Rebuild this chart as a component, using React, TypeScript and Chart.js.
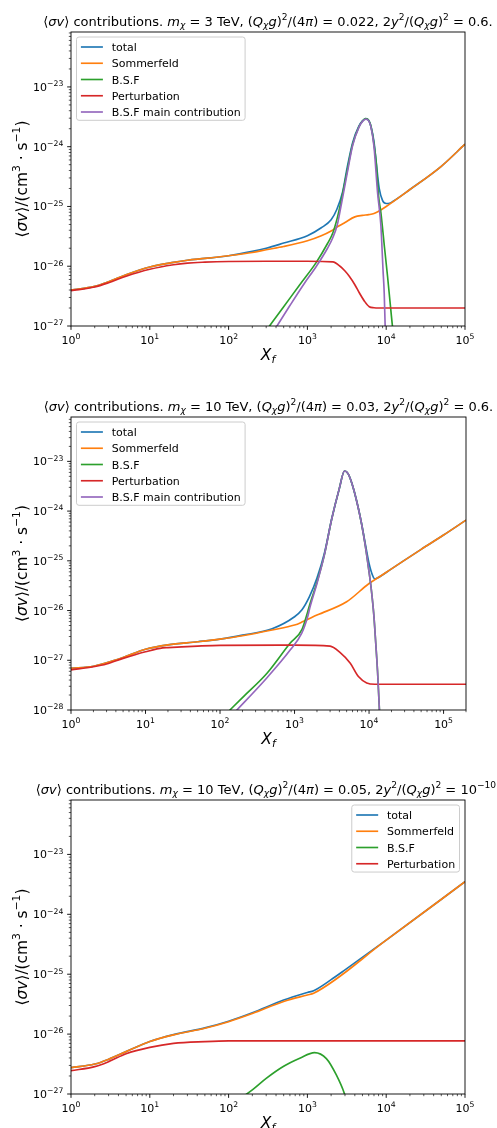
import React, { useEffect, useRef } from "react";
import { Chart, registerables } from "chart.js";
Chart.register(...registerables);

const FONT = '"DejaVu Sans", "Liberation Sans", Arial, sans-serif';

const seriesLabels = ["total", "Sommerfeld", "B.S.F", "Perturbation", "B.S.F main contribution"];
const seriesColors = ["#1f77b4", "#ff7f0e", "#2ca02c", "#d62728", "#9467bd"];

// ---------- Panel 1: m = 3 TeV ----------
const p1TotalX = [1, 2, 3, 5, 10, 20, 30, 50, 100, 200, 300, 500, 1000, 1500, 2000, 2360, 2800, 3200, 3750, 4500, 5000, 5500, 6000, 6400, 7000, 7400, 8150, 9000, 10000, 11000, 12000, 20000, 50000, 100000];
const p1TotalY = [4.0e-27, 4.6e-27, 5.5e-27, 7.2e-27, 9.7e-27, 1.16e-26, 1.26e-26, 1.35e-26, 1.5e-26, 1.77e-26, 2.0e-26, 2.44e-26, 3.24e-26, 4.4e-26, 6.0e-26, 8.9e-26, 1.75e-25, 4.5e-25, 1.17e-24, 2.2e-24, 2.7e-24, 2.95e-24, 2.75e-24, 2.2e-24, 1.2e-24, 6.2e-25, 2.0e-25, 1.25e-25, 1.12e-25, 1.13e-25, 1.2e-25, 1.92e-25, 4.7e-25, 1.1e-24];
const p1SomX = [1, 2, 3, 5, 10, 20, 30, 50, 100, 200, 300, 500, 1000, 1500, 2000, 2500, 3000, 4000, 5000, 6000, 7000, 8000, 10000, 20000, 50000, 100000];
const p1SomY = [4.0e-27, 4.6e-27, 5.5e-27, 7.2e-27, 9.7e-27, 1.16e-26, 1.26e-26, 1.35e-26, 1.5e-26, 1.7e-26, 1.89e-26, 2.14e-26, 2.67e-26, 3.24e-26, 3.9e-26, 4.7e-26, 5.4e-26, 6.7e-26, 7.1e-26, 7.3e-26, 7.6e-26, 8.3e-26, 1.0e-25, 1.92e-25, 4.7e-25, 1.1e-24];
const p1BsfX = [300, 500, 800, 1290, 1800, 2100, 2400, 2700, 3200, 3750, 4500, 5000, 5500, 6000, 6400, 7000, 7500, 8000, 8570, 9500, 10400, 11200, 12000, 12600];
const p1BsfY = [8.4e-28, 2.1e-27, 4.9e-27, 1.15e-26, 2.4e-26, 3.6e-26, 6.5e-26, 1.3e-25, 4.0e-25, 1.1e-24, 2.15e-24, 2.7e-24, 2.95e-24, 2.75e-24, 2.2e-24, 1.1e-24, 5.0e-25, 1.5e-25, 7.8e-26, 2.1e-26, 6.8e-27, 2.5e-27, 1.0e-27, 6.0e-28];
const p1PertX = [1, 2, 3, 5, 10, 20, 30, 50, 100, 300, 1000, 2100, 2600, 3000, 3400, 4000, 4550, 5300, 6100, 7000, 7900, 10000, 100000];
const p1PertY = [3.9e-27, 4.5e-27, 5.3e-27, 6.8e-27, 8.9e-27, 1.06e-26, 1.13e-26, 1.17e-26, 1.2e-26, 1.21e-26, 1.21e-26, 1.18e-26, 1.0e-26, 8.3e-27, 6.8e-27, 4.9e-27, 3.6e-27, 2.6e-27, 2.1e-27, 2.02e-27, 2.0e-27, 2.0e-27, 2.0e-27];
const p1MainX = [380, 600, 900, 1300, 1800, 2100, 2400, 2700, 3200, 3750, 4500, 5000, 5500, 6000, 6400, 7000, 7770, 8570, 9100, 9440, 9700, 9900];
const p1MainY = [8.5e-28, 2.2e-27, 5.0e-27, 1.0e-26, 2.0e-26, 3.0e-26, 5.0e-26, 1.1e-25, 3.6e-25, 1.05e-24, 2.1e-24, 2.65e-24, 2.9e-24, 2.7e-24, 2.15e-24, 1.0e-24, 1.7e-25, 4.7e-26, 9.0e-27, 3.5e-27, 1.0e-27, 5.0e-28];

// ---------- Panel 2: m = 10 TeV, alpha = 0.03 ----------
const p2TotalX = [1, 2, 3, 5, 10, 20, 50, 100, 200, 500, 1000, 1250, 1585, 2000, 2510, 3160, 3980, 4680, 5250, 6030, 7080, 7940, 8910, 10000, 11200, 12000, 12900, 20000, 50000, 100000, 200000];
const p2TotalY = [6.9e-28, 7.6e-28, 8.9e-28, 1.14e-27, 1.66e-27, 2.04e-27, 2.36e-27, 2.67e-27, 3.2e-27, 4.3e-27, 7.5e-27, 1.02e-26, 1.9e-26, 4.5e-26, 1.4e-25, 7.1e-25, 2.8e-24, 6.4e-24, 5.6e-24, 3.2e-24, 1.26e-24, 5.6e-25, 2.2e-25, 8.9e-26, 5.0e-26, 4.3e-26, 4.5e-26, 6.9e-26, 1.7e-25, 3.3e-25, 6.6e-25];
const p2SomX = [1, 2, 3, 5, 10, 20, 50, 100, 200, 500, 1000, 1300, 2000, 5000, 10000, 13000, 20000, 50000, 100000, 200000];
const p2SomY = [6.9e-28, 7.6e-28, 8.9e-28, 1.14e-27, 1.66e-27, 2.04e-27, 2.36e-27, 2.67e-27, 3.12e-27, 4.07e-27, 5.1e-27, 6.0e-27, 8.1e-27, 1.5e-26, 3.5e-26, 4.5e-26, 6.9e-26, 1.7e-25, 3.3e-25, 6.6e-25];
const p2BsfX = [120, 200, 427, 870, 1260, 1500, 1620, 2000, 2510, 3160, 3980, 4680, 5250, 6030, 7080, 7940, 8910, 10000, 10800, 11600, 12300, 13000, 13600, 14100];
const p2BsfY = [8.3e-29, 1.78e-28, 5.5e-28, 2.2e-27, 4.2e-27, 9.4e-27, 1.4e-26, 3.7e-26, 1.3e-25, 7.0e-25, 2.8e-24, 6.4e-24, 5.6e-24, 3.2e-24, 1.25e-24, 5.5e-25, 2.0e-25, 6.0e-26, 2.4e-26, 8.0e-27, 2.2e-27, 6.0e-28, 1.5e-28, 5.0e-29];
const p2PertX = [1, 2, 3, 5, 10, 17, 20, 50, 100, 1000, 3000, 4000, 5600, 7200, 9300, 12000, 200000];
const p2PertY = [6.4e-28, 7.4e-28, 8.4e-28, 1.09e-27, 1.48e-27, 1.78e-27, 1.8e-27, 1.93e-27, 2.0e-27, 2.02e-27, 1.93e-27, 1.48e-27, 8.7e-28, 4.7e-28, 3.5e-28, 3.3e-28, 3.3e-28];
const p2MainX = [150, 424, 873, 1250, 1500, 1620, 2000, 2510, 3160, 3980, 4680, 5250, 6030, 7080, 7940, 8910, 10000, 10800, 11600, 12300, 13000, 13600, 14100];
const p2MainY = [8.3e-29, 4.4e-28, 1.6e-27, 3.5e-27, 7.5e-27, 1.2e-26, 3.5e-26, 1.3e-25, 7.0e-25, 2.8e-24, 6.4e-24, 5.6e-24, 3.2e-24, 1.25e-24, 5.5e-25, 2.0e-25, 6.0e-26, 2.4e-26, 8.0e-27, 2.2e-27, 6.0e-28, 1.5e-28, 5.0e-29];

// ---------- Panel 3: m = 10 TeV, alpha = 0.05 ----------
const p3TotalX = [1, 2, 3, 5, 10, 20, 50, 100, 200, 500, 1000, 1200, 2000, 3000, 10000, 100000];
const p3TotalY = [2.75e-27, 3.16e-27, 3.8e-27, 5.1e-27, 7.5e-27, 9.8e-27, 1.27e-26, 1.64e-26, 2.27e-26, 3.7e-26, 4.95e-26, 5.3e-26, 8.1e-26, 1.18e-25, 3.7e-25, 3.5e-24];
const p3SomX = [1, 2, 3, 5, 10, 20, 50, 100, 200, 500, 1000, 1200, 10000, 100000];
const p3SomY = [2.75e-27, 3.16e-27, 3.8e-27, 5.1e-27, 7.5e-27, 9.7e-27, 1.25e-26, 1.61e-26, 2.2e-26, 3.5e-26, 4.5e-26, 4.8e-26, 3.7e-25, 3.5e-24];
const p3BsfX = [150, 200, 300, 500, 800, 1230, 1740, 2320, 2960, 3100];
const p3BsfY = [8.9e-28, 1.17e-27, 1.82e-27, 2.9e-27, 3.94e-27, 4.9e-27, 3.9e-27, 2.1e-27, 1.0e-27, 8.0e-28];
const p3PertX = [1, 2, 3, 5, 10, 20, 50, 100, 1000, 100000];
const p3PertY = [2.45e-27, 2.86e-27, 3.47e-27, 4.7e-27, 6.0e-27, 7.0e-27, 7.5e-27, 7.7e-27, 7.7e-27, 7.7e-27];

// tick exponents
const p1XTicks = [0, 1, 2, 3, 4, 5];
const p1YTicks = [-27, -26, -25, -24, -23];
const p2XTicks = [0, 1, 2, 3, 4, 5];
const p2YTicks = [-28, -27, -26, -25, -24, -23];
const p3XTicks = [0, 1, 2, 3, 4, 5];
const p3YTicks = [-27, -26, -25, -24, -23];

const TICK_FS = 11;
const LEGEND_FS = 11;
const TITLE_FS = 13;
const LABEL_FS = 15.4;
const LINE_W = 1.65;

type Seg = { t: string; it?: boolean; sup?: boolean; sub?: boolean };

function titleSegs(mass: string, alpha: string, ratio: Seg[]): Seg[] {
  return [
    { t: "\u27E8" }, { t: "\u03C3v", it: true }, { t: "\u27E9 contributions. " },
    { t: "m", it: true }, { t: "\u03C7", it: true, sub: true }, { t: " = " + mass + " TeV, (" },
    { t: "Q", it: true }, { t: "\u03C7", it: true, sub: true }, { t: "g", it: true }, { t: ")" }, { t: "2", sup: true },
    { t: "/(4" }, { t: "\u03C0", it: true }, { t: ") = " + alpha + ", 2" }, { t: "y", it: true }, { t: "2", sup: true },
    { t: "/(" }, { t: "Q", it: true }, { t: "\u03C7", it: true, sub: true }, { t: "g", it: true }, { t: ")" }, { t: "2", sup: true },
    { t: " = " }, ...ratio, { t: "." },
  ];
}

const yLabelSegs: Seg[] = [
  { t: "\u27E8" }, { t: "\u03C3v", it: true }, { t: "\u27E9/(cm" }, { t: "3", sup: true },
  { t: " \u00B7 s" }, { t: "\u22121", sup: true }, { t: ")" },
];
const xLabelSegs: Seg[] = [{ t: "X", it: true }, { t: "f", it: true, sub: true }];

function segFont(s: Seg, size: number) {
  const sz = s.sup || s.sub ? size * 0.7 : size;
  return (s.it ? "italic " : "") + sz + "px " + FONT;
}

function drawRich(ctx: CanvasRenderingContext2D, segs: Seg[], x: number, y: number, size: number, align: string) {
  const widths = segs.map((s) => {
    ctx.font = segFont(s, size);
    return ctx.measureText(s.t).width;
  });
  const total = widths.reduce((a, b) => a + b, 0);
  let cx = align === "center" ? x - total / 2 : align === "right" ? x - total : x;
  ctx.textAlign = "left";
  ctx.textBaseline = "alphabetic";
  segs.forEach((s, i) => {
    ctx.font = segFont(s, size);
    const dy = s.sup ? -size * 0.42 : s.sub ? size * 0.2 : 0;
    ctx.fillText(s.t, cx, y + dy);
    cx += widths[i];
  });
  return total;
}

type Series = { x: number[]; y: number[] };
type PanelCfg = {
  top: number;
  padding: { left: number; right: number; top: number; bottom: number };
  xMax: number;
  yMin: number;
  yMax: number;
  xTicks: number[];
  yTicks: number[];
  title: Seg[];
  series: Series[];
  legendRight: boolean;
};

const panels: PanelCfg[] = [
  {
    top: 0,
    padding: { left: 71, right: 32, top: 32, bottom: 50 },
    xMax: 1e5, yMin: 1e-27, yMax: 8.3e-23,
    xTicks: p1XTicks, yTicks: p1YTicks,
    title: titleSegs("3", "0.022", [{ t: "0.6" }]),
    series: [
      { x: p1TotalX, y: p1TotalY }, { x: p1SomX, y: p1SomY }, { x: p1BsfX, y: p1BsfY },
      { x: p1PertX, y: p1PertY }, { x: p1MainX, y: p1MainY },
    ],
    legendRight: false,
  },
  {
    top: 376,
    padding: { left: 71, right: 31, top: 41, bottom: 42 },
    xMax: 2e5, yMin: 1e-28, yMax: 7.8e-23,
    xTicks: p2XTicks, yTicks: p2YTicks,
    title: titleSegs("10", "0.03", [{ t: "0.6" }]),
    series: [
      { x: p2TotalX, y: p2TotalY }, { x: p2SomX, y: p2SomY }, { x: p2BsfX, y: p2BsfY },
      { x: p2PertX, y: p2PertY }, { x: p2MainX, y: p2MainY },
    ],
    legendRight: false,
  },
  {
    top: 752,
    padding: { left: 71, right: 32, top: 48, bottom: 34 },
    xMax: 1e5, yMin: 1e-27, yMax: 8.1e-23,
    xTicks: p3XTicks, yTicks: p3YTicks,
    title: titleSegs("10", "0.05", [{ t: "10" }, { t: "\u221210", sup: true }]),
    series: [
      { x: p3TotalX, y: p3TotalY }, { x: p3SomX, y: p3SomY }, { x: p3BsfX, y: p3BsfY },
      { x: p3PertX, y: p3PertY },
    ],
    legendRight: true,
  },
];

function makeDecor(cfg: PanelCfg) {
  return {
    id: "decor",
    afterDatasetsDraw(chart: any) {
      const ctx: CanvasRenderingContext2D = chart.ctx;
      const area = chart.chartArea;
      const xs = chart.scales.x;
      const ys = chart.scales.y;
      ctx.save();
      ctx.fillStyle = "#000";
      ctx.strokeStyle = "#000";

      // frame
      ctx.lineWidth = 0.9;
      ctx.strokeRect(area.left, area.top, area.right - area.left, area.bottom - area.top);

      // x ticks
      const xMinExp = Math.floor(Math.log10(xs.min));
      const xMaxExp = Math.ceil(Math.log10(xs.max));
      for (let e = xMinExp; e <= xMaxExp; e++) {
        for (let m = 1; m <= 9; m++) {
          const v = m * Math.pow(10, e);
          if (v < xs.min * 0.999 || v > xs.max * 1.001) continue;
          const px = xs.getPixelForValue(v);
          ctx.lineWidth = m === 1 ? 0.9 : 0.65;
          ctx.beginPath();
          ctx.moveTo(px, area.bottom);
          ctx.lineTo(px, area.bottom + (m === 1 ? 3.85 : 2.2));
          ctx.stroke();
        }
      }
      // y ticks
      const yMinExp = Math.floor(Math.log10(ys.min));
      const yMaxExp = Math.ceil(Math.log10(ys.max));
      for (let e = yMinExp; e <= yMaxExp; e++) {
        for (let m = 1; m <= 9; m++) {
          const v = m * Math.pow(10, e);
          if (v < ys.min * 0.999 || v > ys.max * 1.001) continue;
          const py = ys.getPixelForValue(v);
          ctx.lineWidth = m === 1 ? 0.9 : 0.65;
          ctx.beginPath();
          ctx.moveTo(area.left, py);
          ctx.lineTo(area.left - (m === 1 ? 3.85 : 2.2), py);
          ctx.stroke();
        }
      }

      // tick labels
      cfg.xTicks.forEach((e) => {
        const px = xs.getPixelForValue(Math.pow(10, e));
        drawRich(ctx, [{ t: "10" }, { t: e < 0 ? "\u2212" + -e : String(e), sup: true }], px, area.bottom + 17.5, TICK_FS, "center");
      });
      cfg.yTicks.forEach((e) => {
        const py = ys.getPixelForValue(Math.pow(10, e));
        drawRich(ctx, [{ t: "10" }, { t: e < 0 ? "\u2212" + -e : String(e), sup: true }], area.left - 7.7, py + 4, TICK_FS, "right");
      });

      // axis labels
      const cxm = (area.left + area.right) / 2;
      const cym = (area.top + area.bottom) / 2;
      drawRich(ctx, xLabelSegs, cxm, area.bottom + 34, LABEL_FS, "center");
      ctx.save();
      ctx.translate(26.5, cym);
      ctx.rotate(-Math.PI / 2);
      drawRich(ctx, yLabelSegs, 0, 0, LABEL_FS, "center");
      ctx.restore();

      // title
      drawRich(ctx, cfg.title, cxm, area.top - 6.3, TITLE_FS, "center");

      // legend
      const ds = chart.data.datasets;
      ctx.font = LEGEND_FS + "px " + FONT;
      let maxW = 0;
      ds.forEach((d: any) => { maxW = Math.max(maxW, ctx.measureText(d.label).width); });
      const bw = 39.6 + maxW;
      const bh = 18.3 + (ds.length - 1) * 16.25;
      const bx = cfg.legendRight ? area.right - 5.5 - bw : area.left + 5.5;
      const by = area.top + 5;
      ctx.beginPath();
      const r = 2.5;
      ctx.moveTo(bx + r, by);
      ctx.lineTo(bx + bw - r, by);
      ctx.arcTo(bx + bw, by, bx + bw, by + r, r);
      ctx.lineTo(bx + bw, by + bh - r);
      ctx.arcTo(bx + bw, by + bh, bx + bw - r, by + bh, r);
      ctx.lineTo(bx + r, by + bh);
      ctx.arcTo(bx, by + bh, bx, by + bh - r, r);
      ctx.lineTo(bx, by + r);
      ctx.arcTo(bx, by, bx + r, by, r);
      ctx.closePath();
      ctx.fillStyle = "rgba(255,255,255,0.8)";
      ctx.fill();
      ctx.strokeStyle = "#cccccc";
      ctx.lineWidth = 1;
      ctx.stroke();
      ds.forEach((d: any, i: number) => {
        const cy = by + 10 + i * 16.25;
        ctx.strokeStyle = d.borderColor;
        ctx.lineWidth = LINE_W;
        ctx.beginPath();
        ctx.moveTo(bx + 4.4, cy);
        ctx.lineTo(bx + 26.4, cy);
        ctx.stroke();
        ctx.fillStyle = "#000";
        ctx.font = LEGEND_FS + "px " + FONT;
        ctx.textAlign = "left";
        ctx.textBaseline = "alphabetic";
        ctx.fillText(d.label, bx + 35.2, cy + 4);
      });
      ctx.restore();
    },
  };
}

function Panel({ cfg }: { cfg: PanelCfg }) {
  const ref = useRef<HTMLCanvasElement>(null);
  useEffect(() => {
    const n = cfg.series.length;
    const chart = new Chart(ref.current as HTMLCanvasElement, {
      type: "line",
      data: {
        datasets: cfg.series.map((s, i) => ({
          label: seriesLabels[i],
          data: s.x.map((x, j) => ({ x, y: s.y[j] })),
          borderColor: seriesColors[i],
          backgroundColor: seriesColors[i],
          borderWidth: LINE_W,
          pointRadius: 0,
          fill: false,
          cubicInterpolationMode: "monotone",
          borderJoinStyle: "round",
          order: n - i,
          clip: 0,
        })),
      } as any,
      options: {
        responsive: false,
        animation: false,
        devicePixelRatio: 1,
        events: [],
        layout: { padding: cfg.padding },
        scales: {
          x: { type: "logarithmic", min: 1, max: cfg.xMax, display: false },
          y: { type: "logarithmic", min: cfg.yMin, max: cfg.yMax, display: false },
        },
        plugins: {
          legend: { display: false },
          title: { display: false },
          tooltip: { enabled: false },
        },
      } as any,
      plugins: [makeDecor(cfg)],
    });
    return () => chart.destroy();
  }, []);
  return (
    <canvas
      ref={ref}
      width={497}
      height={376}
      style={{ position: "absolute", left: 0, top: cfg.top, width: 497, height: 376, display: "block" }}
    />
  );
}

export default function App() {
  return (
    <div style={{ position: "absolute", left: 0, top: 0, width: 497, height: 1128, background: "#fff", overflow: "hidden" }}>
      {panels.map((p, i) => (
        <Panel key={i} cfg={p} />
      ))}
    </div>
  );
}
